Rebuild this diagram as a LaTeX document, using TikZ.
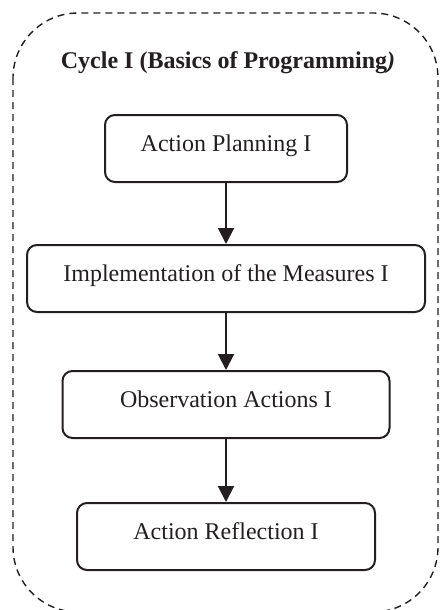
\documentclass[tikz,border=0pt]{standalone}
\usepackage{fontspec}
\setmainfont{Liberation Serif}
\usetikzlibrary{arrows.meta}
\definecolor{ink}{HTML}{231F20}
\begin{document}
\begin{tikzpicture}[x=1pt,y=-1pt,
  stepbox/.style={draw=ink, line width=2pt, rounded corners=10pt, minimum height=67pt,
    text height=16pt, text depth=10pt, inner sep=0pt, text=ink,
    font=\fontsize{24}{28}\selectfont},
  flow/.style={draw=ink, line width=2pt, -{Triangle[width=16pt,length=16pt]}},
  frame/.style={draw=ink, line width=1.4pt, dash pattern=on 7pt off 5pt, rounded corners=65pt},
  titletext/.style={text=ink, inner sep=0pt, font=\fontsize{24}{28}\selectfont\bfseries}]
\useasboundingbox (0,0) rectangle (440,610);
\draw[frame] (13,13) rectangle (438,612);
\node[titletext, anchor=base] (title) at (228,68) {Cycle I (Basics of Programming\textit{)}};
\node[stepbox, minimum width=242pt] (b1) at (226,148.5) {Action Planning I};
\node[stepbox, minimum width=398pt] (b2) at (226,278.5) {Implementation of the Measures I};
\node[stepbox, minimum width=327pt] (b3) at (226,404.5) {Observation Actions I};
\node[stepbox, minimum width=298pt] (b4) at (226,536.5) {Action Reflection I};
\draw[flow] (b1) -- (b2);
\draw[flow] (b2) -- (b3);
\draw[flow] (b3) -- (b4);
\end{tikzpicture}
\end{document}
